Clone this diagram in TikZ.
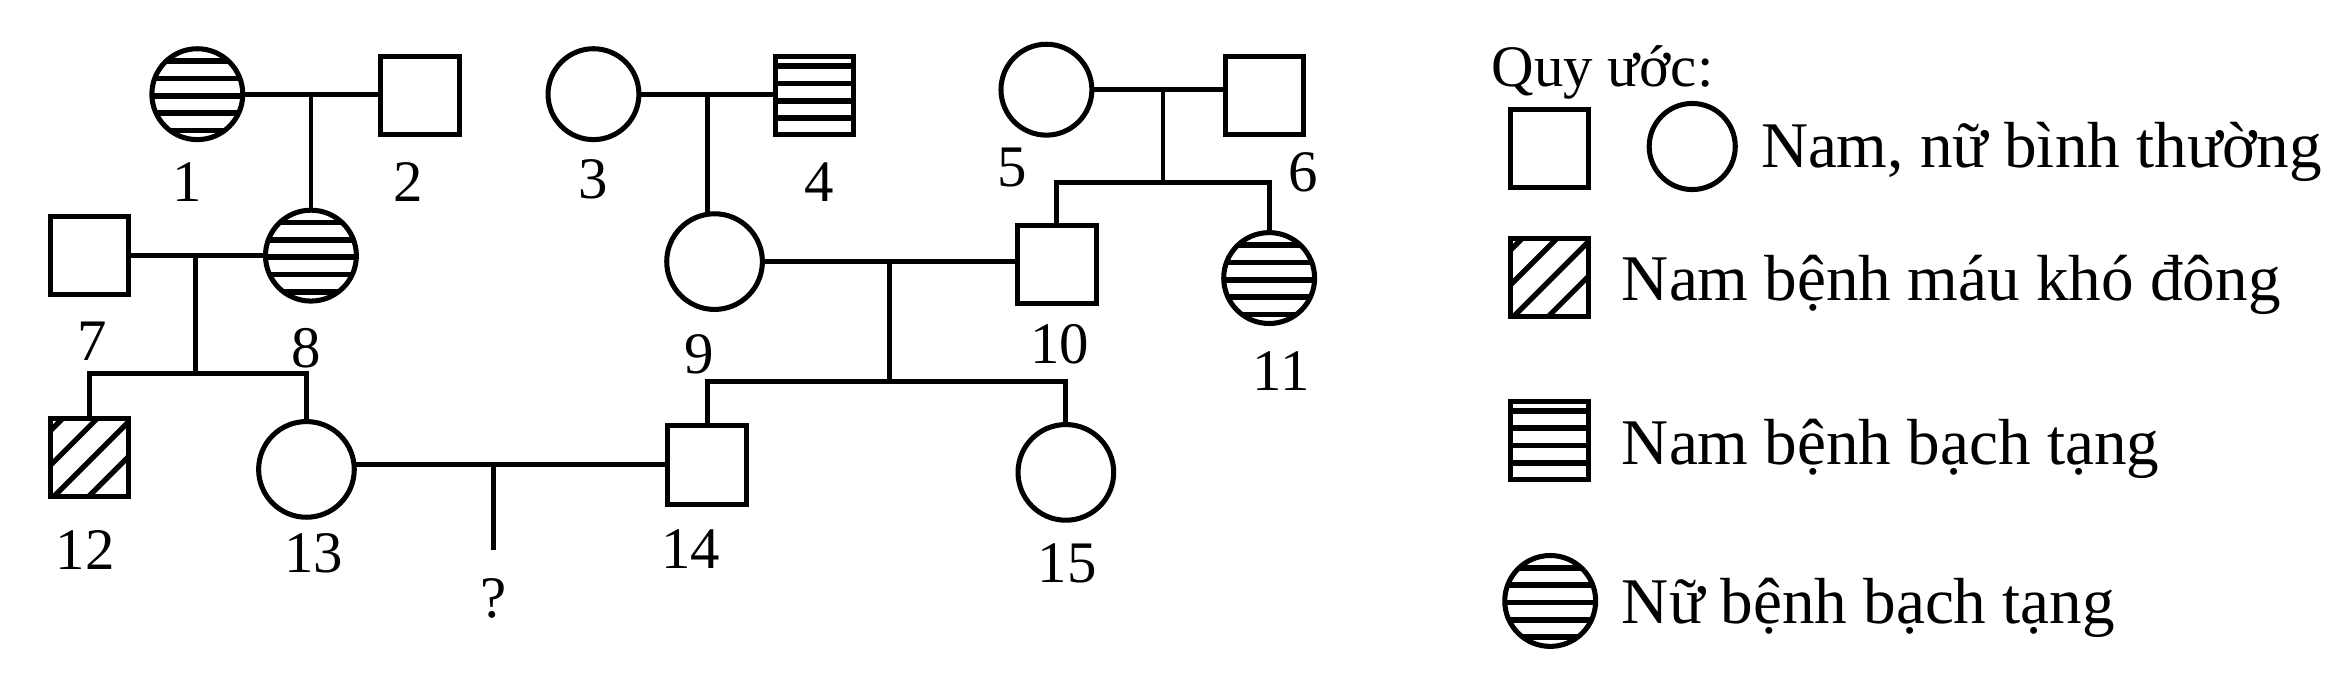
\documentclass[tikz,border=0pt]{standalone}
\usepackage{fontspec}
\setmainfont{Liberation Serif}
\begin{document}
\begin{tikzpicture}[x=0.25mm,y=-0.25mm,
  every node/.style={inner sep=0pt, outer sep=0pt},
  male/.style={draw, line width=2.4pt, rectangle, minimum size=13.1mm},
  female/.style={draw, line width=2.4pt, circle, minimum size=15.2mm},
  bigf/.style={minimum size=16mm},
  conn/.style={line width=2.3pt},
  lab/.style={font=\fontsize{28}{30}\selectfont},
  legtext/.style={anchor=base west, font=\fontsize{31}{33}\selectfont},
  fstripe/.style={path picture={\foreach \k in {-2,...,2}{\draw[line width=2.7pt] ([yshift=-0.28mm-\k*2.9mm]path picture bounding box.west) -- ([yshift=-0.28mm-\k*2.9mm]path picture bounding box.east);}}},
  mstripe/.style={path picture={\foreach \k in {-2,...,1}{\draw[line width=2.7pt] ([yshift=-0.875mm-\k*2.9mm]path picture bounding box.west) -- ([yshift=-0.875mm-\k*2.9mm]path picture bounding box.east);}}},
  mdiag/.style={path picture={\foreach \d in {-11.05,-5.25,0.55,6.35}{\draw[line width=2.5pt] ([xshift=\d mm]path picture bounding box.center) ++(-10mm,-10mm) -- ++(20mm,20mm);}}}
]
\useasboundingbox (0,0) rectangle (1568,450);

% generation I
\node[female,fstripe] (n1) at (132,63) {};
\node[male] (n2) at (281,64) {};
\node[female] (n3) at (397,63) {};
\node[male,mstripe] (n4) at (545,64) {};
\node[female] (n5) at (700,60) {};
\node[male] (n6) at (846,64) {};

% generation II
\node[male] (n7) at (60,171) {};
\node[female,fstripe] (n8) at (208,171) {};
\node[female,bigf] (n9) at (478,175) {};
\node[male] (n10) at (707,177) {};
\node[female,fstripe] (n11) at (849,186) {};

% generation III
\node[male,mdiag] (n12) at (60,306) {};
\node[female,bigf] (n13) at (205,314) {};
\node[male] (n14) at (473,311) {};
\node[female,bigf] (n15) at (713,316) {};

% couples and descent
\coordinate (m12) at (208,63);
\coordinate (m34) at (473,63);
\coordinate (m56) at (778,60);
\coordinate (s56) at (778,122);
\coordinate (m78) at (131,171);
\coordinate (s78) at (131,250);
\coordinate (m910) at (595,175);
\coordinate (s910) at (595,255);
\coordinate (m1314) at (330,311);
\coordinate (qend) at (330,368);

\draw[conn] (n1.east) -- (n1.east -| n2.west);
\draw[conn] (m12) -- (n8.north);
\draw[conn] (n3.east) -- (n3.east -| n4.west);
\draw[conn] (m34) -- (m34 |- n9.north);
\draw[conn] (n5.east) -- (n5.east -| n6.west);
\draw[conn] (m56) -- (s56);
\draw[conn] (n10.north) |- (s56) -| (n11.north);
\draw[conn] (n7) -- (n8);
\draw[conn] (m78) -- (s78);
\draw[conn] (n12.north) |- (s78) -| (n13.north);
\draw[conn] (n9.east) -- (n9.east -| n10.west);
\draw[conn] (m910) -- (s910);
\draw[conn] (n14.north) |- (s910) -| (n15.north);
\draw[conn] (n14.west -| n13.east) -- (n14.west);
\draw[conn] (m1314) -- (qend);

% labels
\node[lab] (l1) at (125,122) {1};
\node[lab] (l2) at (273,122) {2};
\node[lab] (l3) at (397,120) {3};
\node[lab] (l4) at (548,122) {4};
\node[lab] (l5) at (677,112) {5};
\node[lab] (l6) at (872,115) {6};
\node[lab] (l7) at (62,228) {7};
\node[lab] (l8) at (205,233) {8};
\node[lab] (l9) at (468,237) {9};
\node[lab] (l10) at (709,230) {10};
\node[lab] (l11) at (857,248) {11};
\node[lab] (l12) at (57,368) {12};
\node[lab] (l13) at (210,370) {13};
\node[lab] (l14) at (462,367) {14};
\node[lab] (l15) at (714,377) {15};
\node[lab] (lq) at (330,400) {?};

% legend
\node[anchor=base west, font=\fontsize{28}{30}\selectfont] (qu) at (998,58) {Quy ước:};
\node[male] (k1) at (1036.5,99.5) {};
\node[female,minimum size=14.4mm] (k2) at (1132,98) {};
\node[legtext] (t1) at (1178,112) {Nam, nữ bình thường};
\node[male,mdiag] (k3) at (1036.5,185.5) {};
\node[legtext] (t2) at (1085,201) {Nam bệnh máu khó đông};
\node[male,mstripe] (k4) at (1036.5,294.5) {};
\node[legtext] (t3) at (1085,311) {Nam bệnh bạch tạng};
\node[female,fstripe] (k5) at (1037,402) {};
\node[legtext] (t4) at (1085,417) {Nữ bệnh bạch tạng};
\end{tikzpicture}
\end{document}
